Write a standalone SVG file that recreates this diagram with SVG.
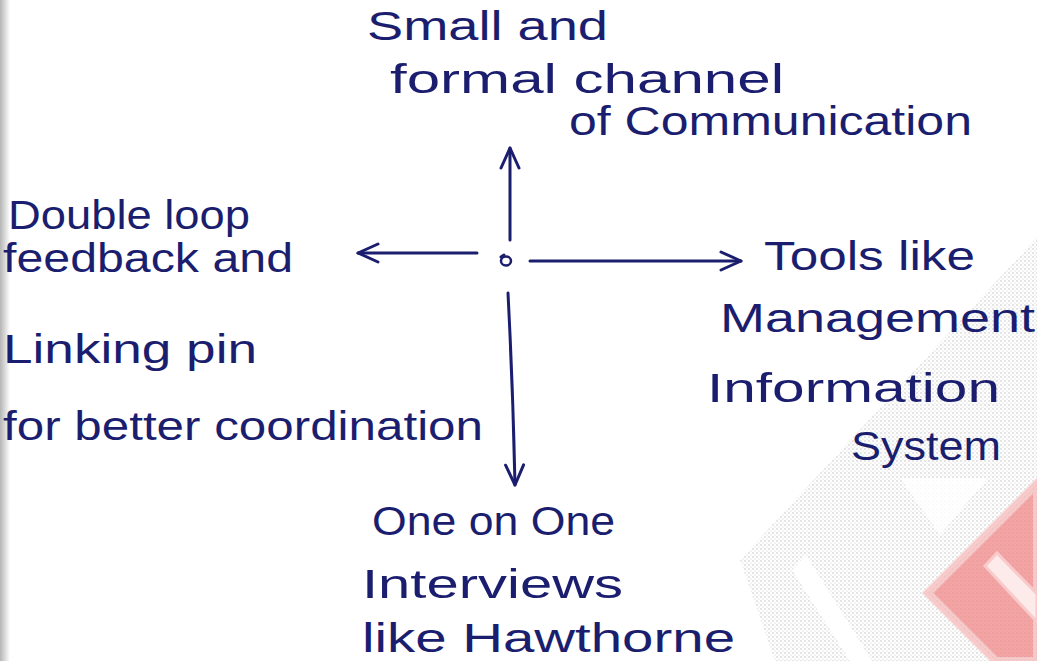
<svg xmlns="http://www.w3.org/2000/svg" width="1037" height="661" viewBox="0 0 1037 661">
  <defs>
    <style>
      .hand { font-family: "Liberation Sans", "DejaVu Sans", sans-serif; font-size: 40px; fill: #1b1e6e; }
      .conn { fill: none; stroke: #1b1e6e; stroke-width: 3; stroke-linecap: round; }
    </style>
    <marker id="head" markerUnits="userSpaceOnUse" markerWidth="26" markerHeight="26" viewBox="0 0 26 26" refX="23" refY="13" orient="auto">
      <path d="M3,4 L23,13 L3,22" fill="none" stroke="#1b1e6e" stroke-width="3" stroke-linecap="round" stroke-linejoin="round"/>
    </marker>
    <pattern id="stipple" width="4" height="4" patternUnits="userSpaceOnUse">
      <circle cx="1" cy="1" r="0.75" fill="#8a8a8a"/>
      <circle cx="3" cy="3" r="0.6" fill="#a0a0a0"/>
    </pattern>
    <linearGradient id="edge" x1="0" y1="0" x2="1" y2="0">
      <stop offset="0" stop-color="#b5b5b5"/>
      <stop offset="1" stop-color="#ffffff"/>
    </linearGradient>
  </defs>

  <rect width="1037" height="661" fill="#ffffff"/>
  <rect x="0" y="0" width="10" height="661" fill="url(#edge)"/>

  <!-- watermark -->
  <g id="watermark">
    <polygon points="740,560 1037,237 1037,661 775,661" fill="url(#stipple)" opacity="0.55"/>
    <polygon points="792,570 806,555 872,661 850,661" fill="#ffffff"/>
    <polygon points="900,478 988,478 940,535" fill="#ffffff" opacity="0.85"/>
    <polygon points="928,593 1037,484 1037,661 996,661" fill="#f5a3a3" stroke="#f8caca" stroke-width="8"/>
    <polygon points="928,593 1037,484 1037,661 996,661" fill="url(#stipple)" opacity="0.25"/>
    <polygon points="985,566 997,553 1037,594 1037,622" fill="#fdeaea" stroke="#f8caca" stroke-width="3"/>
  </g>

  <g id="connectors">
    <path class="conn" d="M510,240 L510,148" marker-end="url(#head)"/>
    <path class="conn" d="M477,253 L358,253" marker-end="url(#head)"/>
    <path class="conn" d="M530,261 L741,261" marker-end="url(#head)"/>
    <path class="conn" d="M508,293 Q513,390 515,485" marker-end="url(#head)"/>
  </g>

  <g id="center">
    <ellipse cx="506" cy="261" rx="5" ry="4.5" fill="none" stroke="#1b1e6e" stroke-width="2.5"/>
    <path d="M501,257 L504,255" class="conn" stroke-width="2"/>
  </g>

  <g id="top-node">
    <text class="hand" x="367" y="40" textLength="241" lengthAdjust="spacingAndGlyphs">Small and</text>
    <text class="hand" x="390" y="93" textLength="394" lengthAdjust="spacingAndGlyphs">formal channel</text>
    <text class="hand" x="569" y="135" textLength="403" lengthAdjust="spacingAndGlyphs">of Communication</text>
  </g>

  <g id="left-node">
    <text class="hand" x="8" y="229" textLength="242" lengthAdjust="spacingAndGlyphs">Double loop</text>
    <text class="hand" x="3" y="272" textLength="290" lengthAdjust="spacingAndGlyphs">feedback and</text>
    <text class="hand" x="3" y="363" textLength="254" lengthAdjust="spacingAndGlyphs">Linking pin</text>
    <text class="hand" x="3" y="440" textLength="480" lengthAdjust="spacingAndGlyphs">for better coordination</text>
  </g>

  <g id="right-node">
    <text class="hand" x="764" y="270" textLength="211" lengthAdjust="spacingAndGlyphs">Tools like</text>
    <text class="hand" x="720" y="332" textLength="315" lengthAdjust="spacingAndGlyphs">Management</text>
    <text class="hand" x="707" y="402" textLength="293" lengthAdjust="spacingAndGlyphs">Information</text>
    <text class="hand" x="851" y="460" textLength="150" lengthAdjust="spacingAndGlyphs">System</text>
  </g>

  <g id="bottom-node">
    <text class="hand" x="372" y="535" textLength="243" lengthAdjust="spacingAndGlyphs">One on One</text>
    <text class="hand" x="362" y="598" textLength="261" lengthAdjust="spacingAndGlyphs">Interviews</text>
    <text class="hand" x="362" y="652" textLength="373" lengthAdjust="spacingAndGlyphs">like Hawthorne</text>
  </g>
</svg>
